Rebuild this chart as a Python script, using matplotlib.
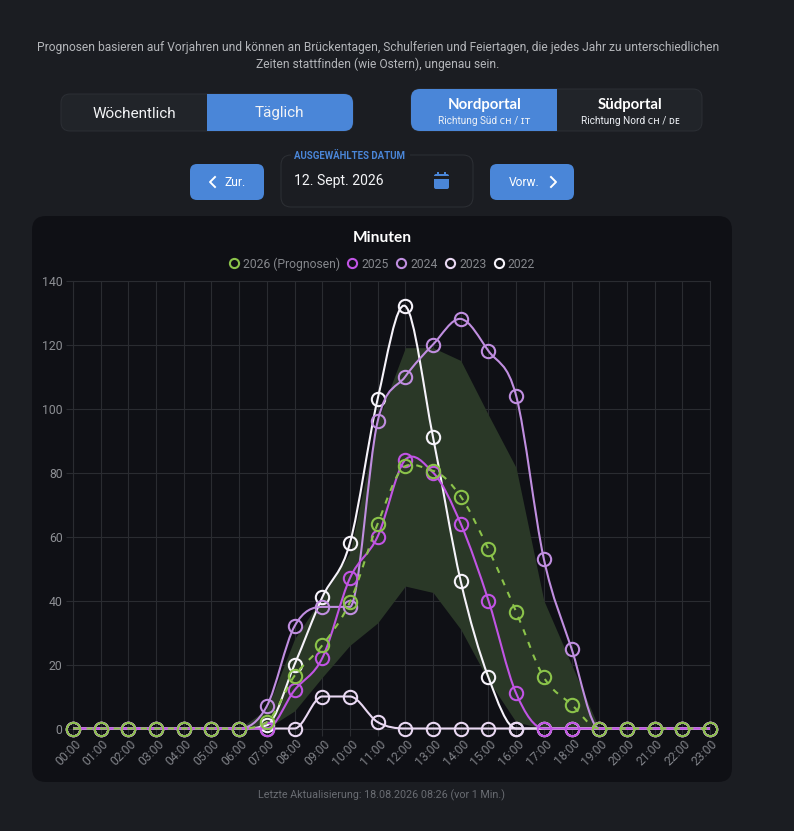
import numpy as np
import matplotlib
matplotlib.use("Agg")
import matplotlib.pyplot as plt
from matplotlib.patches import FancyBboxPatch, Rectangle, PathPatch
from matplotlib.path import Path
from matplotlib.lines import Line2D
from matplotlib.transforms import ScaledTranslation

hours = [f"{h:02d}:00" for h in range(24)]
forecast_2026 = [0,0,0,0,0,0,0,2,16.5,26,39.5,64,82,80.5,72.5,56,36.5,16,7.5,0,0,0,0,0]
band_upper = [0,0,0,0,0,0,0,6,28,41,55,96,119,119,115,98,81.5,40,20,0,0,0,0,0]
band_lower = [0,0,0,0,0,0,0,0,5.5,16,26,33,44.5,42.5,31,15,2,0,0,0,0,0,0,0]
values_2025 = [0,0,0,0,0,0,0,0,12,22,47,60,84,80,64,40,11,0,0,0,0,0,0,0]
values_2024 = [0,0,0,0,0,0,0,7,32,38,38,96,110,120,128,118,104,53,25,0,0,0,0,0]
values_2023 = [0,0,0,0,0,0,0,0,0,10,10,2,0,0,0,0,0,0,0,0,0,0,0,0]
values_2022 = [0,0,0,0,0,0,0,1,20,41,58,103,132,91,46,16,0,0,0,0,0,0,0,0]
yticks = [0,20,40,60,80,100,120,140]

W, H = 794, 831
BG, PANEL, BLUE = "#1b1d22", "#0f1015", "#4a86d8"
GREEN, MAG, PUR, LAV, WHT = "#8bc34a", "#c154e4", "#c08ee0", "#e9d8f2", "#f6f3fa"
FONT = "Roboto"
plt.rcParams["font.family"] = [FONT, "DejaVu Sans"]

fig = plt.figure(figsize=(W/100, H/100), dpi=100, facecolor=BG)
ui = fig.add_axes([0, 0, 1, 1], zorder=0)
ui.set_xlim(0, W); ui.set_ylim(H, 0); ui.axis("off")

def box(x0, y0, x1, y1, r=8, fc="none", ec="none", lw=0.7, clip=None, z=1):
    p = FancyBboxPatch((x0+r, y0+r), x1-x0-2*r, y1-y0-2*r,
                       boxstyle=f"round,pad={r},rounding_size={r}",
                       fc=fc, ec=ec, lw=lw, zorder=z, mutation_aspect=1)
    ui.add_patch(p)
    if clip is not None:
        rect = Rectangle((clip[0], clip[1]), clip[2]-clip[0], clip[3]-clip[1], transform=ui.transData)
        p.set_clip_path(rect)
    return p

def T(x, y, s, px=12, color="white", ha="center", weight="normal", family=None, z=5):
    return ui.text(x, y+1, s, fontsize=px*0.72, color=color, ha=ha, va="center",
                   fontweight=weight, family=family or FONT, zorder=z)

T(378, 46.5, "Prognosen basieren auf Vorjahren und können an Brückentagen, Schulferien und Feiertagen, die jedes Jahr zu unterschiedlichen", 12.0, "#b4b6ba")
T(378, 63.5, "Zeiten stattfinden (wie Ostern), ungenau sein.", 12.0, "#b4b6ba")

# toggles
box(61, 94, 353, 131, 9, fc="#212429", ec="#2c2f35")
box(61, 94, 353, 131, 9, fc=BLUE, clip=(207, 90, 356, 135), z=2)
T(134.5, 112.5, "Wöchentlich", 15.3, "#f2f3f5")
T(279.5, 112.5, "Täglich", 15.3, "#f2f3f5")
box(411, 89, 702, 131, 9, fc="#212429", ec="#2c2f35")
box(411, 89, 702, 131, 9, fc=BLUE, clip=(408, 86, 557, 135), z=2)
T(485, 104, "Nordportal", 15, "white", weight="bold", family="Lato")
T(484.5, 120, "Richtung Süd ᴄʜ / ɪᴛ", 10, "#eef1f6", family=["Roboto", "DejaVu Sans"])
T(630, 104, "Südportal", 15, "white", weight="bold", family="Lato")
T(630, 120, "Richtung Nord ᴄʜ / ᴅᴇ", 10, "#eef1f6", family=["Roboto", "DejaVu Sans"])

# date row
box(190, 164, 264, 200, 7, fc=BLUE)
box(490, 164, 574, 200, 7, fc=BLUE)
T(235, 181.5, "Zur.", 12, "white")
T(524, 181.5, "Vorw.", 12, "white")
ui.plot([215, 210, 215], [177, 182, 187], color="white", lw=1.4, zorder=5)
ui.plot([551, 556, 551], [177, 182, 187], color="white", lw=1.4, zorder=5)
box(281, 155, 473, 207, 10, ec="#2d3035", fc=BG)
ui.add_patch(Rectangle((291, 150), 119, 10, fc=BG, ec="none", zorder=3))
T(294, 154.5, "AUSGEWÄHLTES DATUM", 9.6, BLUE, ha="left", weight="bold")
T(294, 180.5, "12. Sept. 2026", 14, "#f4f5f7", ha="left")
box(434, 174, 449, 189, 2, fc=BLUE)
ui.add_patch(Rectangle((434, 176), 15, 2.5, fc=BG, ec="none", zorder=2))
ui.add_patch(Rectangle((437, 171.5), 2, 4, fc=BLUE, ec="none", zorder=3))
ui.add_patch(Rectangle((444, 171.5), 2, 4, fc=BLUE, ec="none", zorder=3))

# panel
box(32, 216, 732, 782, 14, fc=PANEL)
T(382, 236.5, "Minuten", 15.5, "white", weight="bold", family="Lato")
T(382, 794, "Letzte Aktualisierung: 18.08.2026 08:26 (vor 1 Min.)", 10.8, "#696c72")

# chart
L, R, TOP, BOT = 73, 710, 280.5, 728.5
ax = fig.add_axes([L/W, 1-BOT/H, (R-L)/W, (BOT-TOP)/H], zorder=1)
ax.patch.set_alpha(0)
x = np.arange(24)
ax.set_xlim(0, 23); ax.set_ylim(0, 140)
for s in ax.spines.values():
    s.set_color("#2a2c31"); s.set_linewidth(0.8)
ax.set_xticks(x); ax.set_xticklabels(hours)
ax.set_yticks(yticks)
ax.grid(True, color="#2a2c31", lw=0.8)
ax.set_axisbelow(True)
ax.tick_params(axis="x", length=5, color="#2a2c31", labelcolor="#7f8187", labelsize=8.8, pad=3)
ax.tick_params(axis="y", length=5, color="#2a2c31", labelcolor="#8d8f94", labelsize=8.8, pad=2.5)
off = ScaledTranslation(6/100, -2/100, fig.dpi_scale_trans)
for t in ax.get_xticklabels():
    t.set_rotation(45); t.set_ha("right"); t.set_rotation_mode("anchor"); t.set_va("center")
    t.set_transform(t.get_transform() + off)
ax.fill_between(x, band_lower, band_upper, color="#2a3827", lw=0, zorder=1.5)

def smooth_path(xs, ys):
    """Monotone cubic through the data points (Fritsch-Carlson), as Bezier path."""
    ys = np.asarray(ys, float)
    d = np.diff(ys)
    m = np.zeros_like(ys)
    m[0], m[-1] = d[0], d[-1]
    m[1:-1] = (d[:-1] + d[1:]) / 2
    for i, di in enumerate(d):
        if di == 0:
            m[i] = m[i+1] = 0
    for i, di in enumerate(d):
        if di != 0:
            a, b = m[i]/di, m[i+1]/di
            s = a*a + b*b
            if s > 9:
                k = 3/np.sqrt(s)
                m[i], m[i+1] = k*a*di, k*b*di
    verts = [(xs[0], ys[0])]; codes = [Path.MOVETO]
    for i in range(len(d)):
        verts += [(xs[i]+1/3, ys[i]+m[i]/3), (xs[i+1]-1/3, ys[i+1]-m[i+1]/3), (xs[i+1], ys[i+1])]
        codes += [Path.CURVE4]*3
    return Path(verts, codes)

series = [(values_2022, WHT, "2022", "-"), (values_2023, LAV, "2023", "-"),
          (values_2024, PUR, "2024", "-"), (values_2025, MAG, "2025", "-"),
          (forecast_2026, GREEN, "2026 (Prognosen)", (0, (3, 3.5)))]
for i, (v, c, lab, ls) in enumerate(series):
    z = 3 + i
    ax.add_patch(PathPatch(smooth_path(x, v), fc="none", ec=c, lw=1.5, ls=ls, zorder=z, clip_on=False))
    ax.plot(x, v, ls="none", marker="o", ms=9.6, mfc="none", mec=c, mew=1.5, zorder=z, clip_on=False)

handles = [Line2D([], [], ls="none", marker="o", ms=6.6, mfc="none", mec=c, mew=1.5)
           for v, c, lab, ls in series[::-1]]
labels = [s[2] for s in series[::-1]]
leg = ax.legend(handles, labels, loc="center", bbox_to_anchor=(380/W, 1-264/H), bbox_transform=fig.transFigure,
                ncol=5, frameon=False, fontsize=8.7, labelcolor="#85878c",
                handletextpad=0.0, columnspacing=0.275, handlelength=1.5, borderpad=0)
fig.savefig("out.png", dpi=100, facecolor=BG)
